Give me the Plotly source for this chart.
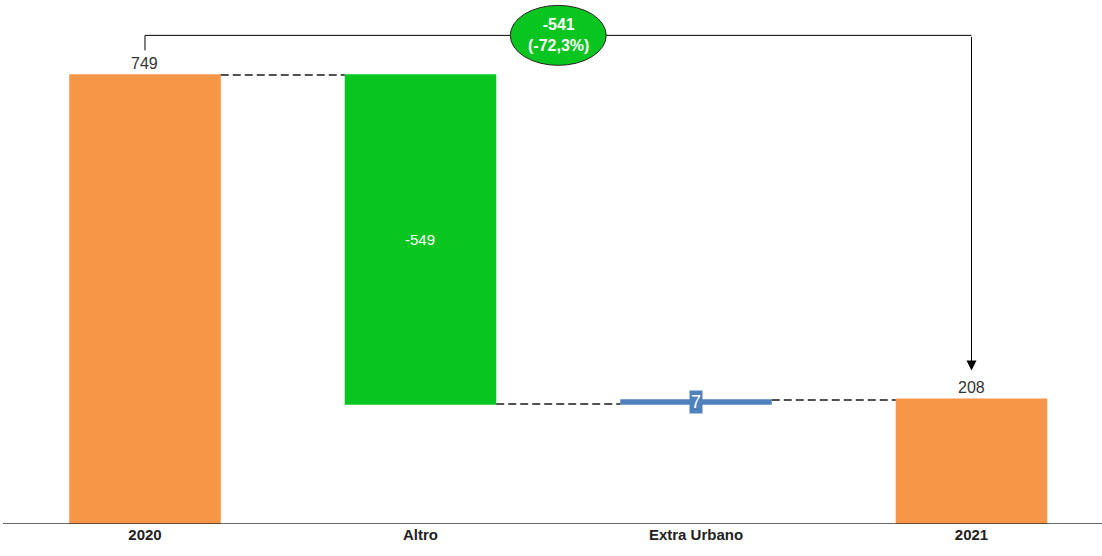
import plotly.graph_objects as go

categories = ["2020", "Altro", "Extra Urbano", "2021"]
values = [749, -549, 7, 208]
measures = ["absolute", "relative", "relative", "absolute"]
delta_label = "-541<br>(-72,3%)"

ORANGE = "#F79646"
GREEN = "#08C520"
BLUE = "#4F81BD"
FONT = "Liberation Sans, Arial, sans-serif"

start, change_a, change_b, end = values
bar_width = 0.55

fig = go.Figure()
fig.add_trace(go.Waterfall(
    x=categories,
    y=values,
    measure=measures,
    width=bar_width,
    totals=dict(marker=dict(color=ORANGE)),
    decreasing=dict(marker=dict(color=GREEN)),
    increasing=dict(marker=dict(color=BLUE)),
    connector=dict(mode="between", line=dict(color="#1a1a1a", width=1.5, dash="8px,4px")),
    textposition="none",
    hoverinfo="x+y",
))

# value labels (x given as category index)
label_font = dict(family=FONT, size=16, color="#333333")
fig.add_annotation(x=0, y=start, text=str(start), showarrow=False,
                   yanchor="bottom", yshift=1, font=label_font)
fig.add_annotation(x=3, y=end, text=str(end), showarrow=False,
                   yanchor="bottom", yshift=1, font=label_font)
fig.add_annotation(x=1, y=start + change_a / 2, text=str(change_a), showarrow=False,
                   font=dict(family=FONT, size=15, color="white"))
fig.add_annotation(x=2, y=start + change_a + change_b / 2, text=str(change_b),
                   showarrow=False, bgcolor=BLUE, borderpad=1,
                   font=dict(family=FONT, size=18, color="white"))

# difference bracket between first and last totals
top = 815
fig.add_shape(type="path",
              path=f"M 0,790 L 0,{top} L 3,{top}",
              xref="x", yref="y", line=dict(color="black", width=1))
fig.add_annotation(x=3, y=end + 48, ax=3, ay=top, axref="x", ayref="y",
                   xref="x", yref="y", text="", showarrow=True,
                   arrowhead=2, arrowsize=2, arrowwidth=1, arrowcolor="black")
fig.add_shape(type="circle", xref="x", yref="y",
              x0=1.5 - 0.174, x1=1.5 + 0.174, y0=top - 50, y1=top + 50,
              fillcolor=GREEN, line=dict(color="#222222", width=1))
fig.add_annotation(x=1.5, y=top, text=f"<b>{delta_label}</b>", showarrow=False,
                   font=dict(family=FONT, size=16, color="white"))

fig.update_layout(
    width=1102, height=556,
    margin=dict(l=3, r=0, t=0, b=32),
    plot_bgcolor="white", paper_bgcolor="white",
    showlegend=False,
    xaxis=dict(type="category", range=[-0.5154, 3.4737], showgrid=False, zeroline=False,
               showline=False, ticks="",
               tickvals=categories, ticktext=[f"<b>{c}</b>" for c in categories],
               tickfont=dict(family=FONT, size=15, color="#222222")),
    yaxis=dict(range=[0, 874], visible=False, showgrid=False, zeroline=False),
)
fig.add_shape(type="line", xref="paper", yref="y", x0=0, x1=1, y0=0, y1=0,
              line=dict(color="#333333", width=1.5))

fig.write_html("out.html")
